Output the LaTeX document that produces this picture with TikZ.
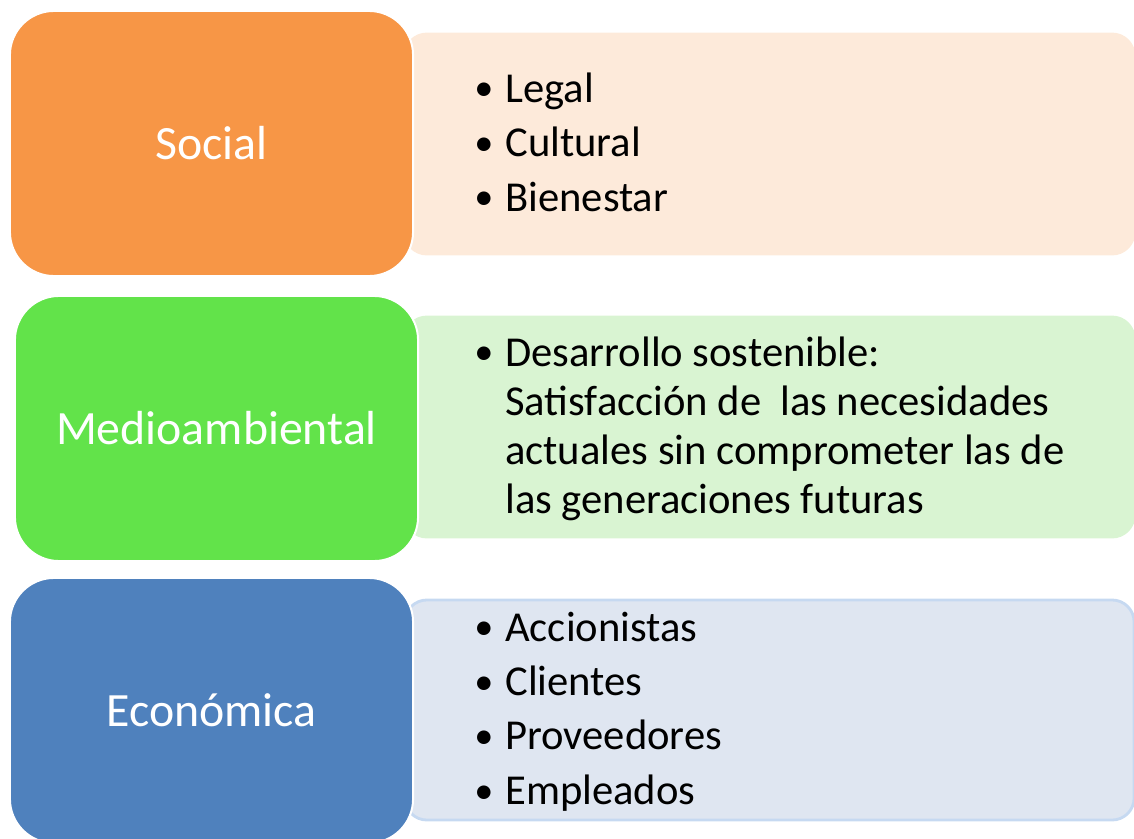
\documentclass[tikz,border=0pt]{standalone}
\usepackage{fontspec}
\setmainfont{Carlito}
\usepackage{tikz}
\usetikzlibrary{positioning}

\definecolor{socialdark}{HTML}{F79646}
\definecolor{sociallight}{HTML}{FDEADA}
\definecolor{mediodark}{HTML}{62E34A}
\definecolor{mediolight}{HTML}{D9F4D2}
\definecolor{econdark}{HTML}{4F81BD}
\definecolor{econlight}{HTML}{DFE6F1}
\definecolor{econedge}{HTML}{C6D9F1}

\newcommand{\itm}[1]{\makebox[0.775cm][l]{\raisebox{0.03em}{\scalebox{0.9}{\textbullet}}}#1}
\newcommand{\cnt}[1]{\hspace*{0.775cm}#1}

\begin{document}
\begin{tikzpicture}[
    % GLOBAL SETTINGS
    x=0.025cm, y=-0.025cm,
    % STYLES
    dimbox/.style={rectangle, rounded corners=1.1cm, draw=white, line width=1.4pt,
        minimum width=10.075cm, minimum height=6.625cm, inner sep=0pt,
        text=white, font=\fontsize{34}{41}\selectfont},
    infobox/.style={rectangle, rounded corners=0.55cm, line width=2pt,
        minimum width=18.225cm, minimum height=5.5cm, inner sep=0pt},
    itemlist/.style={anchor=west, inner sep=0pt, align=left, text=black},
    tightlist/.style={itemlist, font=\fontsize{30.3}{34.9}\selectfont},
    widelist/.style={itemlist, font=\fontsize{30.3}{38.7}\selectfont}
]

    \useasboundingbox (0,0) rectangle (1134,838);

    % Light boxes behind
    \foreach \n/\c/\d/\y in {socinfo/sociallight/sociallight/144,
                             medinfo/mediolight/mediolight/427,
                             ecoinfo/econlight/econedge/710} {
        \node[infobox, fill=\c, draw=\d] (\n) at (769.5,\y) {};
    }

    % Coloured labels
    \foreach \n/\c/\x/\y/\lbl in {social/socialdark/211.5/143.5/Social,
                                  medio/mediodark/216.5/428.5/Medioambiental,
                                  econ/econdark/211.5/710.5/Económica} {
        \node[dimbox, fill=\c] (\n) at (\x,\y) {\lbl};
    }

    % Item lists
    \node[widelist] (soclist) at (474,142) {\itm{Legal}\\ \itm{Cultural}\\ \itm{Bienestar}};
    \node[tightlist] (medlist) at (474,428.5) {\itm{Desarrollo sostenible:}\\
        \cnt{Satisfacción de~ las necesidades}\\
        \cnt{actuales sin comprometer las de}\\
        \cnt{las generaciones futuras}};
    \node[widelist] (ecolist) at (474,711.5) {\itm{Accionistas}\\ \itm{Clientes}\\
        \itm{Proveedores}\\ \itm{Empleados}};

\end{tikzpicture}
\end{document}
